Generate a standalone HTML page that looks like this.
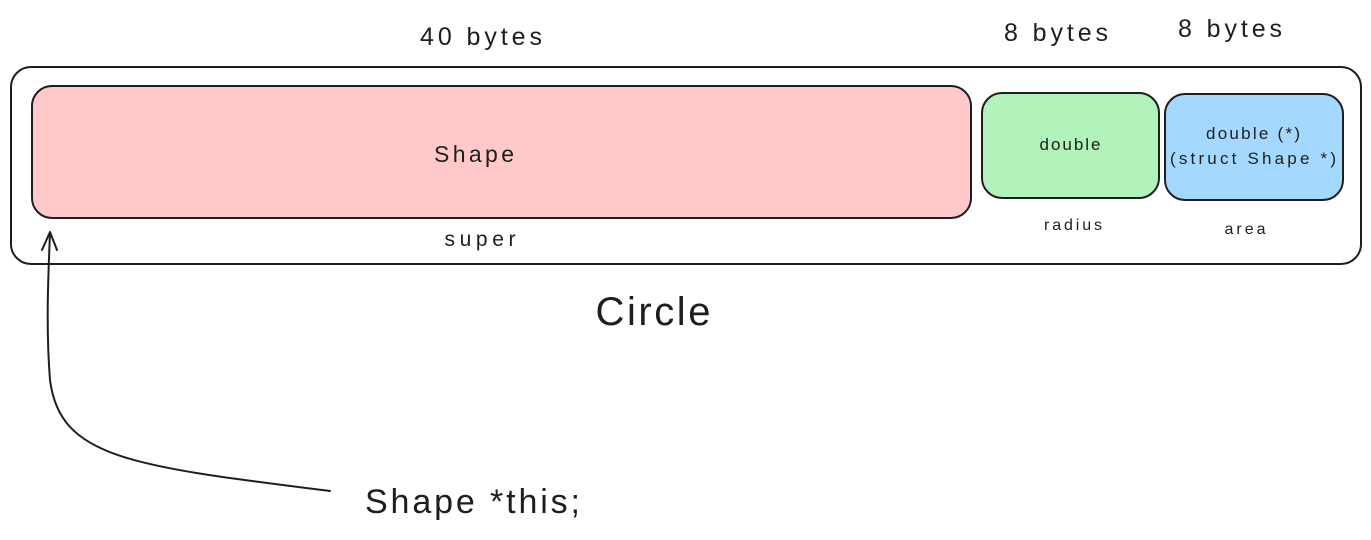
<!DOCTYPE html>
<html><head><meta charset="utf-8"><style>
html,body{margin:0;padding:0;background:#fff;}
body{width:1371px;height:535px;overflow:hidden;}
text{font-family:"Liberation Sans",sans-serif;fill:#1e1e1e;}
</style></head><body>
<svg width="1371" height="535" viewBox="0 0 1371 535" xmlns="http://www.w3.org/2000/svg">
<rect x="11" y="67" width="1350" height="197" rx="20" fill="none" stroke="#1e1e1e" stroke-width="2"/>
<rect x="32" y="86" width="939" height="132" rx="20" fill="#ffc9c9" stroke="#1e1e1e" stroke-width="2"/>
<rect x="982" y="93" width="177" height="105" rx="20" fill="#b2f2bb" stroke="#1e1e1e" stroke-width="2"/>
<rect x="1165" y="94" width="178" height="106" rx="20" fill="#a5d8ff" stroke="#1e1e1e" stroke-width="2"/>
<g text-anchor="middle">
<text x="481" y="45" font-size="25" textLength="122" lengthAdjust="spacing">40 bytes</text>
<text x="1056" y="41" font-size="25" textLength="104" lengthAdjust="spacing">8 bytes</text>
<text x="1230" y="37" font-size="25" textLength="104" lengthAdjust="spacing">8 bytes</text>
<text x="474" y="162" font-size="23" textLength="80" lengthAdjust="spacing">Shape</text>
<text x="480" y="246" font-size="21" textLength="71" lengthAdjust="spacing">super</text>
<text x="1070" y="150" font-size="17" textLength="61" lengthAdjust="spacing">double</text>
<text x="1253" y="139" font-size="17" textLength="94" lengthAdjust="spacing">double (*)</text>
<text x="1253" y="164" font-size="17" textLength="166" lengthAdjust="spacing">(struct Shape *)</text>
<text x="1073" y="230" font-size="16" textLength="58" lengthAdjust="spacing">radius</text>
<text x="1245" y="234" font-size="16" textLength="41" lengthAdjust="spacing">area</text>
<text x="653" y="325" font-size="40" textLength="115" lengthAdjust="spacing">Circle</text>
</g>
<text x="365" y="513" font-size="34" textLength="215" lengthAdjust="spacing">Shape *this;</text>
<path d="M330 491 C 130 466, 60 458, 50 380 C 46 330, 48 280, 50 233" fill="none" stroke="#1e1e1e" stroke-width="2" stroke-linecap="round"/>
<path d="M42 250 L50 232 L57 250" fill="none" stroke="#1e1e1e" stroke-width="2" stroke-linecap="round" stroke-linejoin="round"/>
</svg>
</body></html>
